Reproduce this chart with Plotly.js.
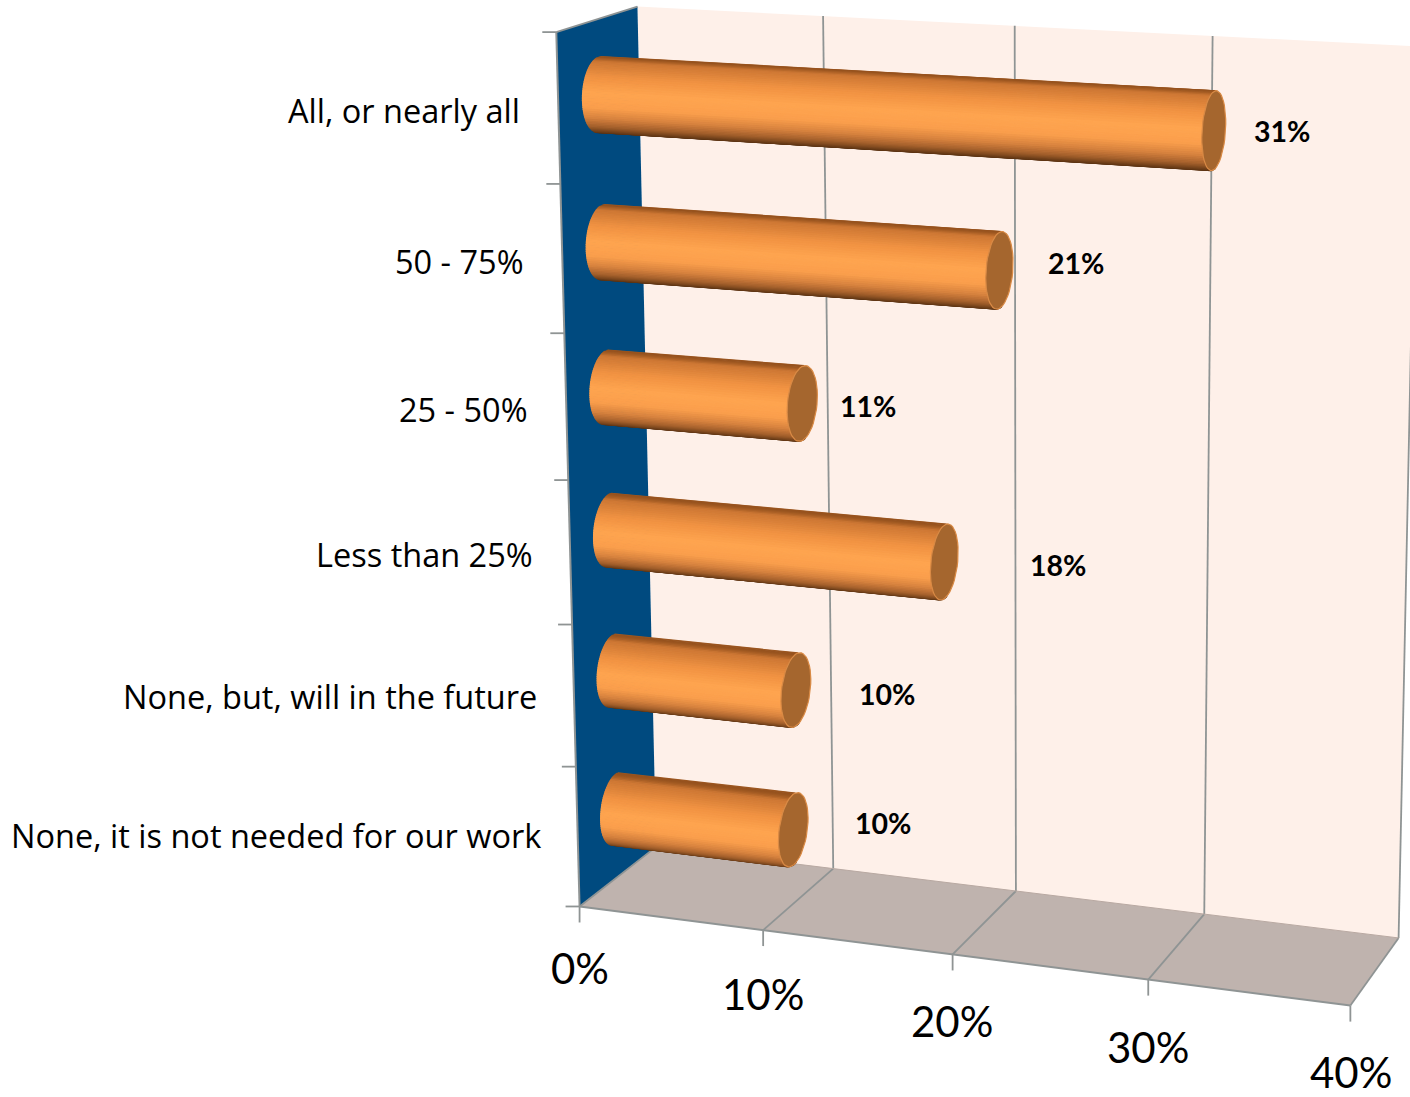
<!DOCTYPE html>
<html><head><meta charset="utf-8">
<script src="https://cdn.plot.ly/plotly-3.0.1.min.js"></script>
<style>html,body{margin:0;padding:0;background:#fff}#c{width:1410px;height:1097px}</style>
</head><body><div id="c"></div>
<script>
const categories = ["All, or nearly all","50 - 75%","25 - 50%","Less than 25%","None, but, will in the future","None, it is not needed for our work"];
const values = [31.49,20.85,10.55,17.95,10.0,9.75];
const valueLabels = ["31%","21%","11%","18%","10%","10%"];
const xTicks = [0,10,20,30,40];
const xTickLabels = ["0%","10%","20%","30%","40%"];
const xTickLabelX = [580,763,952,1148,1351];
const xTickLabelY = [968,994,1021,1047,1071.5];
const valueLabelX = [1282,1076,868,1058,887,883];
const valueLabelY = [131,263,406,565,694,823];
const categoryLabelRight = [522,526,530,535,539,543];
const categoryLabelY = [110,261,409,554,696,835];

// Camera calibration: [value, depth, height] -> picture position
const calib = [
 [0,0,0,581,903],[10,0,0,763,928],[20,0,0,953,954],[30,0,0,1148,981],[40,0,0,1352,1008],
 [0,1,0,653,850],[10,1,0,833,867],[20,1,0,1017,892],[30,1,0,1205,913],[40,1,0,1397,938],
 [0,1,1,638,7],[10,1,1,824,16],[20,1,1,1018,26],[30,1,1,1218,35],[40,1,1,1410,45],
 [0,0,1,555,32],[0,0,5/6,559,184],[0,0,4/6,563,335],[0,0,3/6,568,481],[0,0,2/6,572,625],[0,0,1/6,577,766]
];
function solve(A,b){const n=b.length;for(let i=0;i<n;i++){let p=i;for(let r=i+1;r<n;r++)if(Math.abs(A[r][i])>Math.abs(A[p][i]))p=r;
 [A[i],A[p]]=[A[p],A[i]];[b[i],b[p]]=[b[p],b[i]];
 for(let r=i+1;r<n;r++){const f=A[r][i]/A[i][i];for(let c=i;c<n;c++)A[r][c]-=f*A[i][c];b[r]-=f*b[i];}}
 const x=Array(n).fill(0);for(let i=n-1;i>=0;i--){let s=b[i];for(let c=i+1;c<n;c++)s-=A[i][c]*x[c];x[i]=s/A[i][i];}return x;}
const H=(function(){const N=11,A=[...Array(N)].map(()=>Array(N).fill(0)),b=Array(N).fill(0);
 function add(r,v){for(let i=0;i<N;i++){b[i]+=r[i]*v;for(let j=0;j<N;j++)A[i][j]+=r[i]*r[j];}}
 calib.forEach(([X,Y,Z,u,v])=>{X/=40;u/=1000;v/=1000;
  add([X,Y,Z,1,0,0,0,0,-u*X,-u*Y,-u*Z],u);
  add([0,0,0,0,X,Y,Z,1,-v*X,-v*Y,-v*Z],v);});
 return solve(A,b);})();
function proj(X,Y,Z){X/=40;const w=H[8]*X+H[9]*Y+H[10]*Z+1;
 return [1000*(H[0]*X+H[1]*Y+H[2]*Z+H[3])/w,1000*(H[4]*X+H[5]*Y+H[6]*Z+H[7])/w];}

const traces=[];
function poly(pts,fill,line,lw){const p=pts.map(a=>proj(...a));
 traces.push({type:'scatter',mode:'lines',x:p.map(a=>a[0]).concat(p[0][0]),y:p.map(a=>a[1]).concat(p[0][1]),
  fill:'toself',fillcolor:fill,line:{color:line||fill,width:lw===undefined?1.2:lw},hoverinfo:'skip',showlegend:false});}
function seg(a,b,color,w){const p=proj(...a),q=proj(...b);
 traces.push({type:'scatter',mode:'lines',x:[p[0],q[0]],y:[p[1],q[1]],line:{color:color,width:w},hoverinfo:'skip',showlegend:false});}
function segPx(p,q,color,w){traces.push({type:'scatter',mode:'lines',x:[p[0],q[0]],y:[p[1],q[1]],line:{color:color,width:w},hoverinfo:'skip',showlegend:false});}

const GRID='#8f9494';
poly([[0,1,0],[40,1,0],[40,1,1],[0,1,1]],'#fef0e9',null,0);
poly([[0,0,0],[0,1,0],[0,1,1],[0,0,1]],'#004a7f',null,0);
poly([[0,0,0],[40,0,0],[40,1,0],[0,1,0]],'#bfb3ae',null,0);
xTicks.forEach(t=>{
 if(t>0) seg([t,1,0],[t,1,1],GRID,1.8);
 seg([t,0,0],[t,1,0],GRID,1.8);
 const p=proj(t,0,0); segPx(p,[p[0],p[1]+16],GRID,1.8);
});
seg([0,0,0],[40,0,0],GRID,2);
seg([0,0,0],[0,0,1],GRID,2);
seg([0,0,1],[0,1,1],GRID,2);
seg([0,1,0],[40,1,0],'#b9a9a2',1);
categories.concat(['']).forEach((c,k)=>{const p=proj(0,0,1-k/6);segPx([p[0]-14,p[1]],p,GRID,1.8);});

// Cylinder shading around the circumference: [sin(angle), colour]
const shade=[[1,[150,82,30]],[0.93,[206,120,52]],[0.6,[240,146,66]],[0.2,[255,165,80]],[-0.15,[250,158,76]],[-0.45,[214,130,62]],[-0.7,[165,96,44]],[-0.9,[105,60,24]],[-1,[84,46,16]]];
function colorAt(t){for(let i=0;i<shade.length-1;i++){const a=shade[i],b=shade[i+1];
 if(t<=a[0]&&t>=b[0]){const f=(a[0]-t)/(a[0]-b[0]);const c=a[1].map((v,j)=>Math.round(v+(b[1][j]-v)*f));return `rgb(${c})`;}}
 return t>0?`rgb(${shade[0][1]})`:`rgb(${shade[shade.length-1][1]})`;}
const RY=0.21,RZ=0.042,N=56;
values.forEach((v,k)=>{
 const zc=1-(k+0.5)/6-0.001;
 const pt=(x,th)=>[x,0.5-RY*Math.cos(th),zc+RZ*Math.sin(th)];
 const list=[];
 for(let i=0;i<N;i++){const a=(-100+200*i/N)*Math.PI/180,b=(-100+200*(i+1)/N)*Math.PI/180;list.push([a,b]);}
 list.sort((p,q)=>Math.cos((p[0]+p[1])/2)-Math.cos((q[0]+q[1])/2));
 list.forEach(([a,b])=>{
  const t=Math.max(-1,Math.min(1,Math.sin((a+b)/2)));
  poly([pt(0,a),pt(v,a),pt(v,b),pt(0,b)],colorAt(t));
 });
 const cap=[];for(let i=0;i<48;i++)cap.push(pt(v,i/48*2*Math.PI));
 poly(cap,'#a5662e','#d98a45',1.2);
});

const annotations=[];
categories.forEach((c,k)=>annotations.push({x:categoryLabelRight[k],y:categoryLabelY[k],text:c,xanchor:'right',yanchor:'middle',showarrow:false,font:{family:'"Open Sans", sans-serif',size:32.5,color:'#000'},xref:'x',yref:'y'}));
xTicks.forEach((t,i)=>annotations.push({x:xTickLabelX[i],y:xTickLabelY[i],text:xTickLabels[i],xanchor:'center',yanchor:'middle',showarrow:false,font:{family:'Lato, sans-serif',size:42,color:'#000'},xref:'x',yref:'y'}));
valueLabels.forEach((s,i)=>annotations.push({x:valueLabelX[i],y:valueLabelY[i],text:'<b>'+s+'</b>',xanchor:'center',yanchor:'middle',showarrow:false,font:{family:'Lato, sans-serif',size:28.5,color:'#000'},xref:'x',yref:'y'}));

Plotly.newPlot('c',traces,{width:1410,height:1097,margin:{l:0,r:0,t:0,b:0},paper_bgcolor:'#fff',plot_bgcolor:'#fff',showlegend:false,
 xaxis:{range:[0,1410],visible:false,fixedrange:true},yaxis:{range:[1097,0],visible:false,fixedrange:true},annotations},{displayModeBar:false,staticPlot:true});
</script></body></html>
